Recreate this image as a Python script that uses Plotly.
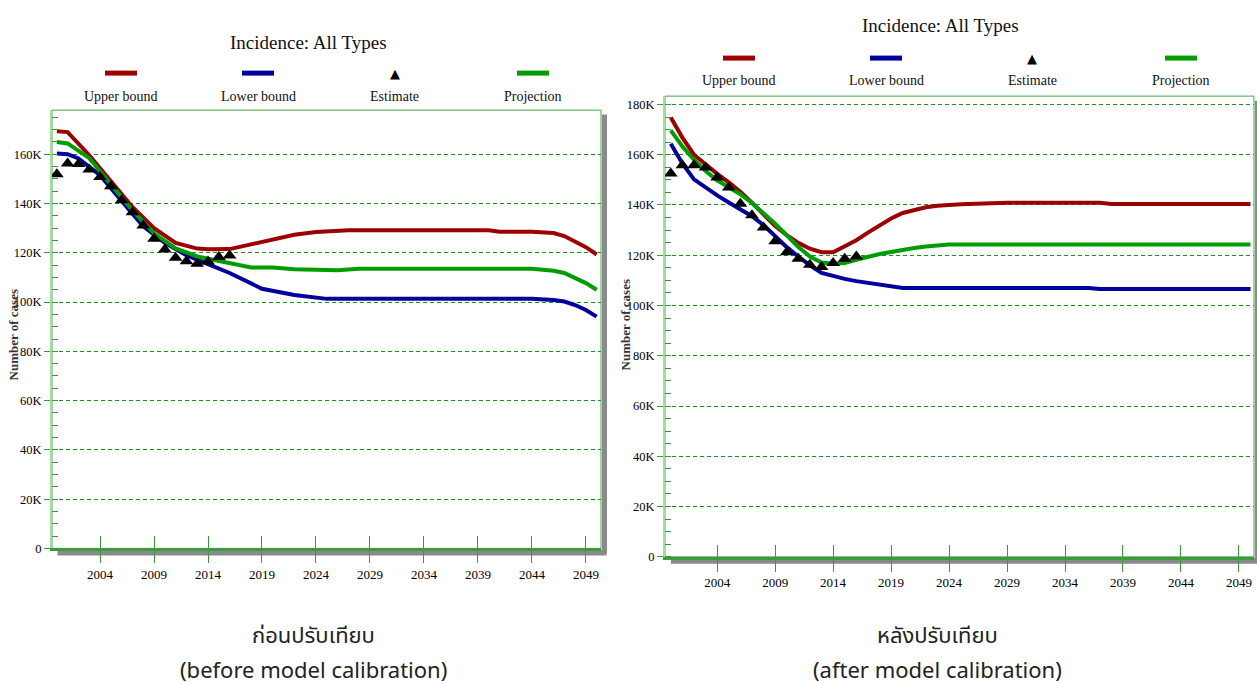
import plotly.graph_objects as go

# ---------------- data ----------------
tick_years = [2004, 2009, 2014, 2019, 2024, 2029, 2034, 2039, 2044, 2049]
y_tickvals = [0, 20000, 40000, 60000, 80000, 100000, 120000, 140000, 160000, 180000]
y_ticktext = ["0", "20K", "40K", "60K", "80K", "100K", "120K", "140K", "160K", "180K"]

est_years = list(range(2000, 2017))

# before calibration (left)
b_upper_years = [2000, 2001, 2003, 2005, 2007, 2009, 2011, 2013, 2014, 2016, 2018, 2020, 2022, 2024, 2027, 2040, 2041, 2044, 2046, 2047, 2048, 2049, 2050]
b_upper_vals = [169300, 169000, 159600, 149000, 138600, 130000, 124000, 121700, 121400, 121500, 123400, 125500, 127300, 128400, 129100, 129100, 128500, 128500, 128000, 126800, 124600, 122300, 119300]

b_lower_years = [2000, 2001, 2002, 2004, 2006, 2008, 2010, 2012, 2014, 2016, 2019, 2022, 2025, 2044, 2046, 2047, 2048, 2049, 2050]
b_lower_vals = [160300, 160000, 158300, 151500, 141000, 130800, 124000, 119000, 115400, 111800, 105400, 102900, 101300, 101300, 100800, 100200, 98800, 96800, 94100]

b_proj_years = [2000, 2001, 2003, 2005, 2007, 2009, 2011, 2013, 2016, 2018, 2020, 2022, 2026, 2028, 2044, 2046, 2047, 2048, 2049, 2050]
b_proj_vals = [165000, 164400, 158400, 148000, 137200, 127900, 121800, 118500, 115600, 114000, 114000, 113300, 112900, 113500, 113500, 112700, 111800, 109800, 107700, 105000]

b_estimate = [151900, 156200, 156000, 153800, 150800, 147000, 141300, 136500, 131100, 125700,
              121300, 118000, 116600, 115600, 116500, 118300, 118900]

# after calibration (right)
a_upper_years = [2000, 2001, 2002, 2003, 2004, 2005, 2006, 2007, 2008, 2009, 2010, 2011, 2012, 2013, 2014,
                 2015, 2016, 2017, 2018, 2019, 2020, 2021, 2022, 2023, 2025, 2029, 2037, 2038, 2050]
a_upper_vals = [174800, 166800, 160000, 156000, 152400, 149000, 145300, 140900, 136300, 131600, 128000, 124900,
                122600, 121200, 121200, 123500, 126000, 129000, 131800, 134600, 136800, 138000, 139100, 139700,
                140300, 140900, 140900, 140400, 140400]

a_lower_years = [2000, 2001, 2002, 2003, 2004, 2005, 2006, 2007, 2008, 2009, 2010, 2011, 2012, 2013, 2014,
                 2015, 2016, 2017, 2018, 2019, 2020, 2036, 2037, 2050]
a_lower_vals = [164400, 156500, 150200, 146800, 143800, 141000, 138400, 135500, 132000, 127700, 123200, 119500,
                116000, 113000, 111600, 110600, 109700, 109000, 108200, 107500, 107000, 107000, 106600, 106600]

a_proj_years = [2000, 2001, 2002, 2003, 2004, 2005, 2006, 2007, 2008, 2009, 2010, 2011, 2012, 2013, 2014,
                2015, 2016, 2017, 2018, 2019, 2020, 2021, 2022, 2023, 2024, 2050]
a_proj_vals = [169700, 163300, 158000, 153500, 149800, 147000, 144300, 140800, 136900, 132500, 127900, 123300,
               119500, 117100, 116600, 116900, 118200, 119400, 120500, 121300, 122200, 122900, 123500, 123800,
               124300, 124300]

a_estimate = [152500, 155800, 155800, 154900, 150900, 146900, 140500, 135900, 131000, 125600,
              121200, 118600, 116200, 115300, 116900, 118600, 119500]

series_names = ["Upper bound", "Lower bound", "Estimate", "Projection"]
RED, BLUE, GREEN, BLACK = "#9c0000", "#00009c", "#009c00", "#000000"

# ---------------- figure ----------------
fig = go.Figure()

def add_panel(xa, ya, upper, lower, proj, est):
    for (yrs, vals), col in [(upper, RED), (lower, BLUE), (proj, GREEN)]:
        fig.add_trace(go.Scatter(x=yrs, y=vals, mode="lines", line=dict(color=col, width=4),
                                 xaxis=xa, yaxis=ya, showlegend=False, hoverinfo="skip"))
    fig.add_trace(go.Scatter(x=est_years, y=est, mode="markers",
                             marker=dict(symbol="triangle-up", size=12, color=BLACK),
                             xaxis=xa, yaxis=ya, showlegend=False, hoverinfo="skip"))

add_panel("x", "y", (b_upper_years, b_upper_vals), (b_lower_years, b_lower_vals),
          (b_proj_years, b_proj_vals), b_estimate)
add_panel("x2", "y2", (a_upper_years, a_upper_vals), (a_lower_years, a_lower_vals),
          (a_proj_years, a_proj_vals), a_estimate)

# invisible helpers for the overlay axes (inner half of x ticks)
fig.add_trace(go.Scatter(x=est_years, y=b_estimate, mode="markers", opacity=0, xaxis="x3", yaxis="y",
                         showlegend=False, hoverinfo="skip"))
fig.add_trace(go.Scatter(x=est_years, y=a_estimate, mode="markers", opacity=0, xaxis="x4", yaxis="y2",
                         showlegend=False, hoverinfo="skip"))

W, H = 1257, 684          # reference picture size (used for relative positions)
FIG_H = 692               # rendered page height (the viewport photographed is slightly taller)
SERIF = "Liberation Serif, Times New Roman, serif"
XTICKFONT = dict(family=SERIF, size=13, color="#000000")
YTICKFONT = dict(family=SERIF, size=12.5, color="#000000")
TICKCOL = "#3a9a3a"

def xax(domain, rng, anchor):
    return dict(domain=domain, range=rng, anchor=anchor, tickmode="array", tickvals=tick_years,
                ticks="outside", ticklen=12, tickwidth=1, tickcolor=TICKCOL, showline=True,
                linecolor="#3d9a3d", linewidth=3, showgrid=False, zeroline=False, tickfont=XTICKFONT)

def xov(rng, over, anchor):
    return dict(overlaying=over, anchor=anchor, range=rng, tickmode="array", tickvals=tick_years,
                ticks="inside", ticklen=12, tickwidth=1, tickcolor=TICKCOL, showticklabels=False,
                showline=False, showgrid=False, zeroline=False)

def yax(domain, rng, anchor):
    return dict(domain=domain, range=rng, anchor=anchor, tickmode="array", tickvals=y_tickvals,
                ticktext=y_ticktext, ticks="outside", ticklen=6, tickwidth=1, tickcolor=TICKCOL,
                showline=True, linecolor="#a6dba6", linewidth=2, showgrid=True, gridcolor="#1f8f1f",
                gridwidth=1, griddash="4px,3px", zeroline=False, tickfont=YTICKFONT,
                minor=dict(dtick=5000, ticks="inside", ticklen=6, tickwidth=1, tickcolor=TICKCOL,
                           showgrid=False))

L_X = [52 / W, 601 / W]
L_Y = [1 - 547.6 / H, 1 - 110 / H]
R_X = [665 / W, 1254 / W]
R_Y = [1 - 556 / H, 1 - 96 / H]
L_XR = [1999.55, 2050.4]
R_XR = [1999.5, 2050.3]

fig.update_layout(
    width=W, height=FIG_H, autosize=False, margin=dict(l=0, r=0, t=0, b=0),
    paper_bgcolor="white", plot_bgcolor="white", showlegend=False,
    xaxis=xax(L_X, L_XR, "y"), yaxis=yax(L_Y, [0, 177900], "x"),
    xaxis2=xax(R_X, R_XR, "y2"), yaxis2=yax(R_Y, [0, 183300], "x2"),
    xaxis3=xov(L_XR, "x", "y"), xaxis4=xov(R_XR, "x2", "y2"),
)

shapes = []
anns = []
for xd, yd in [("x domain", "y domain"), ("x2 domain", "y2 domain")]:
    # drop shadow right & bottom
    shapes.append(dict(type="rect", xref=xd, yref=yd, xsizemode="pixel", xanchor=1, x0=1, x1=6,
                       y0=-0.012, y1=0.99, fillcolor="#8a8a8a", line=dict(width=0), layer="below"))
    shapes.append(dict(type="rect", xref=xd, yref=yd, ysizemode="pixel", yanchor=0, y0=-7, y1=-1,
                       x0=0.01, x1=1.01, fillcolor="#8a8a8a", line=dict(width=0), layer="below"))
    # border
    shapes.append(dict(type="rect", xref=xd, yref=yd, x0=0, x1=1, y0=0, y1=1,
                       line=dict(color="#45a845", width=1), layer="below"))

# titles + custom legends
panels = [
    dict(title_x=308, title_y=42, sym_y=73, lab_y=96, xs=[121, 258, 395, 533], yt_x=13, yt_y=335,
         cap_x=313),
    dict(title_x=940, title_y=25, sym_y=58, lab_y=80, xs=[739, 886, 1032, 1181], yt_x=625, yt_y=325,
         cap_x=937),
]
colors = [RED, BLUE, None, GREEN]
captions = [("ก่อนปรับเทียบ", "(before model calibration)"), ("หลังปรับเทียบ", "(after model calibration)")]

for p, (th, en) in zip(panels, captions):
    anns.append(dict(text="Incidence: All Types", xref="paper", yref="paper", x=p["title_x"] / W,
                     y=1 - p["title_y"] / H, showarrow=False, xanchor="center", yanchor="middle",
                     font=dict(family=SERIF, size=19, color="#111111")))
    for name, cx, col in zip(series_names, p["xs"], colors):
        anns.append(dict(text=name, xref="paper", yref="paper", x=cx / W, y=1 - p["lab_y"] / H,
                         showarrow=False, xanchor="center", yanchor="middle",
                         font=dict(family=SERIF, size=14, color="#111111")))
        if col is None:
            anns.append(dict(text="▲", xref="paper", yref="paper", x=cx / W, y=1 - p["sym_y"] / H,
                             showarrow=False, xanchor="center", yanchor="middle",
                             font=dict(family="DejaVu Sans", size=13, color=BLACK)))
        else:
            shapes.append(dict(type="line", xref="paper", yref="paper", x0=(cx - 16) / W, x1=(cx + 16) / W,
                               y0=1 - p["sym_y"] / H, y1=1 - p["sym_y"] / H,
                               line=dict(color=col, width=5)))
    anns.append(dict(text="<b>Number of cases</b>", xref="paper", yref="paper", x=p["yt_x"] / W,
                     y=1 - p["yt_y"] / H, showarrow=False, textangle=-90, xanchor="center",
                     yanchor="middle", font=dict(family=SERIF, size=13, color="#333333")))
    anns.append(dict(text=th, xref="paper", yref="paper", x=p["cap_x"] / W, y=1 - 636 / H,
                     showarrow=False, xanchor="center", yanchor="middle",
                     font=dict(family="Noto Sans Thai, Noto Sans, DejaVu Sans, sans-serif", size=22,
                               color="#222222")))
    anns.append(dict(text=en, xref="paper", yref="paper", x=p["cap_x"] / W, y=1 - 668 / H,
                     showarrow=False, xanchor="center", yanchor="middle",
                     font=dict(family="Noto Sans, DejaVu Sans, sans-serif", size=22, color="#222222")))

fig.update_layout(shapes=shapes, annotations=anns)
fig.write_html("out.html", config={"displayModeBar": False, "responsive": False},
               post_script="document.body.style.margin='0';document.documentElement.style.overflow='hidden';")
